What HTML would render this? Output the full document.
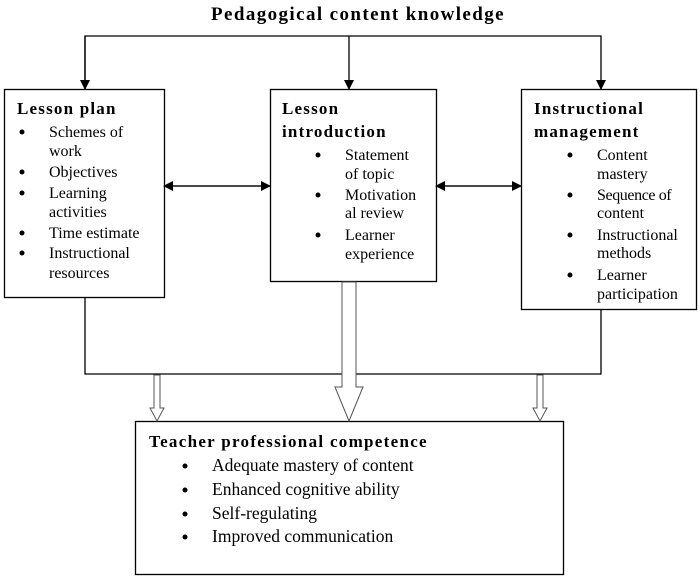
<!DOCTYPE html>
<html><head><style>body{margin:0;background:#fff}svg{display:block}text{font-family:"Liberation Serif",serif;fill:#000}</style></head><body>
<svg width="700" height="578" viewBox="0 0 700 578" xmlns="http://www.w3.org/2000/svg">
<defs><marker id="a" markerWidth="10" markerHeight="10" refX="9" refY="5" orient="auto" markerUnits="userSpaceOnUse"><path d="M0,0 L10,5 L0,10 z" fill="#000"/></marker></defs>
<text x="358" y="20" text-anchor="middle" font-size="19" font-weight="bold" letter-spacing="1.4">Pedagogical content knowledge</text>
<g stroke="#000" stroke-width="1.3" fill="none">
<polyline points="85,89 85,36 601,36 601,89" marker-end="url(#a)"/>
<line x1="85" y1="36" x2="85" y2="89" marker-end="url(#a)"/>
<line x1="349" y1="36" x2="349" y2="89" marker-end="url(#a)"/>
<line x1="166" y1="186" x2="270" y2="186" marker-end="url(#a)"/>
<line x1="268" y1="186" x2="164" y2="186" marker-end="url(#a)"/>
<line x1="438" y1="186" x2="521" y2="186" marker-end="url(#a)"/>
<line x1="519" y1="186" x2="436" y2="186" marker-end="url(#a)"/>
<polyline points="85,297 85,374 601,374 601,309"/>
<rect x="4.5" y="89.5" width="160" height="208"/>
<rect x="270.5" y="89.5" width="166" height="192"/>
<rect x="521.5" y="89.5" width="175" height="220"/>
<rect x="135.5" y="421.5" width="428" height="153"/>
</g>
<g stroke="#555" stroke-width="1" fill="#fff">
<path d="M154,375 L160,375 L160,408 L164,408 L157,421 L150,408 L154,408 z"/>
<path d="M537,375 L543,375 L543,408 L547,408 L540,421 L533,408 L537,408 z"/>
<path d="M342,282 L356,282 L356,387 L363,387 L349,421 L335,387 L342,387 z"/>
</g>
<g font-size="17" font-weight="bold" letter-spacing="1.2">
<text x="17" y="114">Lesson plan</text>
<text x="282" y="114">Lesson</text><text x="282" y="137">introduction</text>
<text x="534" y="114">Instructional</text><text x="534" y="137">management</text>
<text x="149" y="447" letter-spacing="1.3">Teacher professional competence</text>
</g>
<g font-size="16">
<text x="49" y="137">Schemes of</text><text x="49" y="156">work</text>
<text x="49" y="177">Objectives</text>
<text x="49" y="198">Learning</text><text x="49" y="217">activities</text>
<text x="49" y="238">Time estimate</text>
<text x="49" y="258">Instructional</text><text x="49" y="278">resources</text>
<text x="345" y="160">Statement</text><text x="345" y="179">of topic</text>
<text x="345" y="200">Motivation</text><text x="345" y="218">al review</text>
<text x="345" y="240">Learner</text><text x="345" y="259">experience</text>
<text x="597" y="160">Content</text><text x="597" y="179">mastery</text>
<text x="597" y="200" letter-spacing="-0.4">Sequence of</text><text x="597" y="218">content</text>
<text x="597" y="240">Instructional</text><text x="597" y="258">methods</text>
<text x="597" y="280">Learner</text><text x="597" y="299">participation</text>
</g>
<g font-size="17.5">
<text x="212" y="471">Adequate mastery of content</text>
<text x="212" y="495">Enhanced cognitive ability</text>
<text x="212" y="519">Self-regulating</text>
<text x="212" y="542">Improved communication</text>
</g>
<g fill="#000">
<circle cx="22" cy="132" r="2.5"/><circle cx="22" cy="172" r="2.5"/><circle cx="22" cy="193" r="2.5"/><circle cx="22" cy="233" r="2.5"/><circle cx="22" cy="253" r="2.5"/>
<circle cx="318" cy="155" r="2.5"/><circle cx="318" cy="195" r="2.5"/><circle cx="318" cy="235" r="2.5"/>
<circle cx="570" cy="155" r="2.5"/><circle cx="570" cy="195" r="2.5"/><circle cx="570" cy="235" r="2.5"/><circle cx="570" cy="275" r="2.5"/>
<circle cx="185" cy="466" r="2.5"/><circle cx="185" cy="490" r="2.5"/><circle cx="185" cy="514" r="2.5"/><circle cx="185" cy="537" r="2.5"/>
</g>
</svg>
</body></html>
